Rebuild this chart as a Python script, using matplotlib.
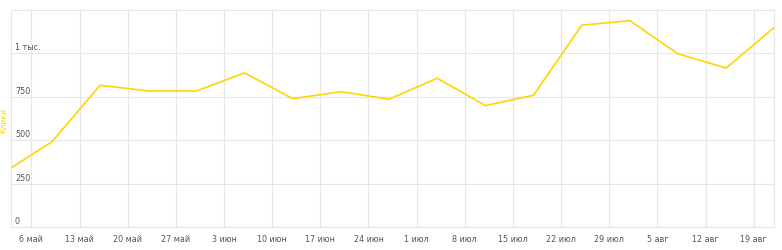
import datetime as dt
import matplotlib
matplotlib.use('Agg')
import matplotlib.pyplot as plt

# weekly clicks
dates = ['2019-05-03', '2019-05-09', '2019-05-16', '2019-05-23', '2019-05-30',
         '2019-06-06', '2019-06-13', '2019-06-20', '2019-06-27', '2019-07-04',
         '2019-07-11', '2019-07-18', '2019-07-25', '2019-08-01', '2019-08-08',
         '2019-08-15', '2019-08-22']
clicks = [340, 492, 816, 783, 783, 887, 739, 779, 736, 856,
          699, 759, 1161, 1187, 996, 915, 1149]

tick_dates = ['2019-05-06', '2019-05-13', '2019-05-20', '2019-05-27', '2019-06-03',
              '2019-06-10', '2019-06-17', '2019-06-24', '2019-07-01', '2019-07-08',
              '2019-07-15', '2019-07-22', '2019-07-29', '2019-08-05', '2019-08-12',
              '2019-08-19']
tick_labels = ['6 май', '13 май', '20 май', '27 май', '3 июн', '10 июн', '17 июн',
               '24 июн', '1 июл', '8 июл', '15 июл', '22 июл', '29 июл', '5 авг',
               '12 авг', '19 авг']
y_ticks = [0, 250, 500, 750, 1000]
y_labels = ['0', '250', '500', '750', '1 тыс.']

x = [dt.datetime.strptime(d, '%Y-%m-%d') for d in dates]
xt = [dt.datetime.strptime(d, '%Y-%m-%d') for d in tick_dates]

fig = plt.figure(figsize=(7.82, 2.51), dpi=100)
ax = fig.add_axes([0.0137, 0.0904, 0.9765, 0.867])

grid_c = '#e6e6e6'
ax.plot(x, clicks, color='#ffd500', lw=1.2, zorder=3)

ax.set_xlim(x[0], x[-1])
ax.set_ylim(0, 1250)

ax.set_xticks(xt)
ax.set_xticklabels(tick_labels, fontsize=5.8, color='#555555')
ax.set_yticks(y_ticks)
ax.set_yticklabels([])
ax.tick_params(axis='both', length=0)
ax.tick_params(axis='x', pad=5)
ax.grid(True, color=grid_c, lw=0.8)

for v, lab in zip(y_ticks, y_labels):
    ax.annotate(lab, xy=(0, v), xycoords=('axes fraction', 'data'),
                xytext=(3, 1.5), textcoords='offset points',
                fontsize=5.8, color='#555555', ha='left', va='bottom')

for s in ax.spines.values():
    s.set_color(grid_c)
    s.set_linewidth(0.8)

fig.text(4 / 782, 0.52, 'Клики', rotation=90, ha='center', va='center',
         color='#ffd500', fontsize=5.5)

plt.savefig('out.png', dpi=100)
